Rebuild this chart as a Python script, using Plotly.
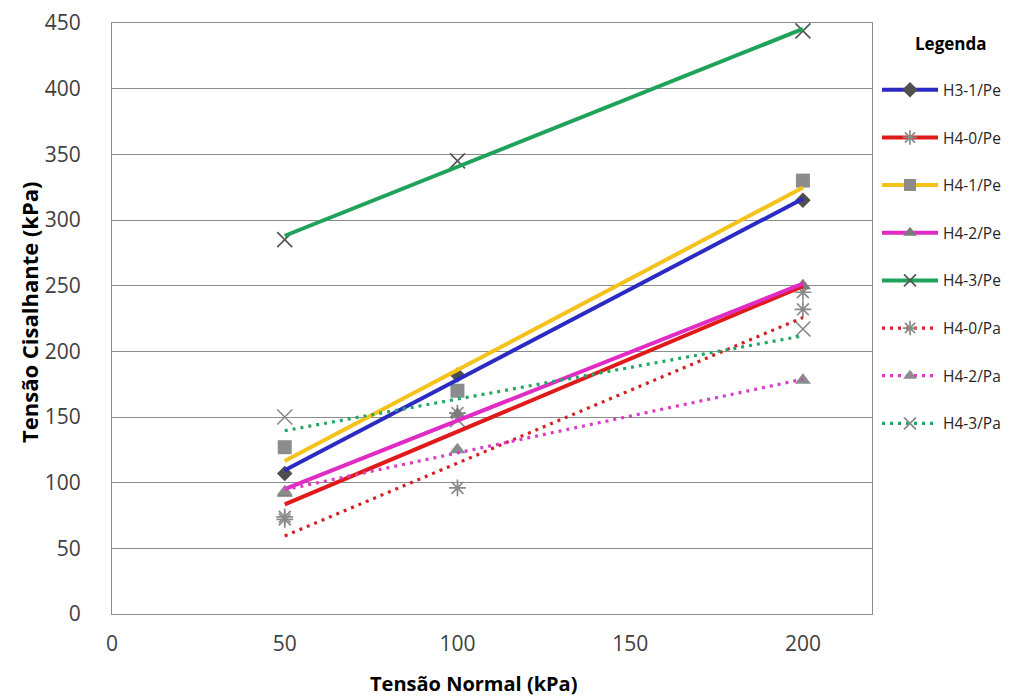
import numpy as np
import plotly.graph_objects as go

# ---- data ----
tensao_normal = [50, 100, 200]
series_names = ["H3-1/Pe", "H4-0/Pe", "H4-1/Pe", "H4-2/Pe", "H4-3/Pe",
                "H4-0/Pa", "H4-2/Pa", "H4-3/Pa"]
h3_1_pe = [107, 182, 315]
h4_0_pe = [74, 153, 245]
h4_1_pe = [127, 170, 330]
h4_2_pe = [92, 152, 250]
h4_3_pe = [285, 345, 444]
h4_0_pa = [72, 96, 232]
h4_2_pa = [93, 125, 178]
h4_3_pa = [150, 148, 217]
y_ticks = [0, 50, 100, 150, 200, 250, 300, 350, 400, 450]
x_ticks = [0, 50, 100, 150, 200]

series_values = [h3_1_pe, h4_0_pe, h4_1_pe, h4_2_pe, h4_3_pe,
                 h4_0_pa, h4_2_pa, h4_3_pa]

# ---- styles ----
line_colors = ["#2B2BC4", "#E01A1A", "#F5C21B", "#E02CC4", "#1FA35A",
               "#D42020", "#D83CC8", "#22A865"]
line_dash = ["solid"] * 5 + ["3px,5px"] * 3
marker_symbols = ["diamond", "asterisk-open", "square", "triangle-up", "x-thin-open",
                  "asterisk-open", "triangle-up", "x-thin-open"]
marker_colors = ["#4F4F4F", "#8A8A8A", "#8C8C8C", "#7A7A7A", "#555555",
                 "#8A8A8A", "#8C8C8C", "#8A8A8A"]
marker_sizes = [12, 14, 14, 14, 15, 14, 14, 15]

FONT = "Open Sans"
fig = go.Figure()

def marker_dict(i, size=None):
    s = marker_sizes[i] if size is None else size
    sym = marker_symbols[i]
    if sym in ("asterisk-open", "x-thin-open"):
        return dict(symbol=sym, size=s, color=marker_colors[i],
                    line=dict(color=marker_colors[i], width=1.7))
    return dict(symbol=sym, size=s, color=marker_colors[i], line=dict(width=0))

# data markers
for i, name in enumerate(series_names):
    fig.add_trace(go.Scatter(x=tensao_normal, y=series_values[i], mode="markers",
                             marker=marker_dict(i), showlegend=False,
                             hoverinfo="skip"))

# linear trendlines (least squares fit of each series)
xs = np.array(tensao_normal, dtype=float)
x_line = [min(tensao_normal), max(tensao_normal)]
for i, name in enumerate(series_names):
    slope, intercept = np.polyfit(xs, np.array(series_values[i], dtype=float), 1)
    y_line = [slope * xv + intercept for xv in x_line]
    fig.add_trace(go.Scatter(x=x_line, y=y_line, mode="lines",
                             line=dict(color=line_colors[i], width=4 if i < 5 else 3.2,
                                       dash=line_dash[i]),
                             showlegend=False, hoverinfo="skip"))

# legend entries
for i, name in enumerate(series_names):
    fig.add_trace(go.Scatter(x=[None], y=[None], mode="lines+markers", name=name,
                             legendgroup=name,
                             line=dict(color=line_colors[i], width=4 if i < 5 else 3.2,
                                       dash=line_dash[i]),
                             marker=marker_dict(i, size=12)))

# the page body adds an 8px offset, so the figure is 8px smaller and margins shifted
fig.update_layout(
    width=1009, height=690,
    margin=dict(l=104, r=145, t=15, b=84, autoexpand=False),
    paper_bgcolor="white", plot_bgcolor="white",
    font=dict(family=FONT, color="#262626"),
    showlegend=True,
    legend=dict(x=(877 - 112) / 760, xanchor="left", y=0.915, yanchor="top",
                font=dict(size=15.5, family=FONT, color="#262626"),
                tracegroupgap=24.5, itemwidth=56, bgcolor="rgba(0,0,0,0)"),
    xaxis=dict(range=[0, 220], tickvals=x_ticks, showgrid=False, zeroline=False,
               showline=True, linecolor="#8C8C8C", linewidth=1, mirror=True,
               ticks="", ticklabelstandoff=11, automargin=False,
               ticklabeloverflow="allow",
               tickfont=dict(size=21, family=FONT, color="#404040")),
    yaxis=dict(range=[0, 450], tickvals=y_ticks, showgrid=True, gridcolor="#8C8C8C",
               gridwidth=1, zeroline=False, showline=True, linecolor="#8C8C8C",
               linewidth=1, mirror=True, ticks="", ticklabelstandoff=26, automargin=False,
               ticklabeloverflow="allow",
               tickfont=dict(size=21, family=FONT, color="#404040")),
    annotations=[
        dict(text="<b>Tensão Normal (kPa)</b>", xref="paper", yref="paper",
             x=(473 - 112) / 760, y=-(683 - 614) / 591, xanchor="center", yanchor="middle",
             showarrow=False, font=dict(size=20, family=FONT, color="#000000")),
        dict(text="<b>Tensão Cisalhante (kPa)</b>", xref="paper", yref="paper",
             x=-(112 - 29) / 760, y=1 - (312 - 23) / 591, xanchor="center", yanchor="middle",
             textangle=-90, showarrow=False,
             font=dict(size=22, family=FONT, color="#000000")),
        dict(text="<b>Legenda</b>", xref="paper", yref="paper",
             x=(951 - 112) / 760, y=1 - (43 - 23) / 591, xanchor="center", yanchor="middle",
             showarrow=False, font=dict(size=17, family=FONT, color="#000000")),
    ],
)

fig.write_html("out.html")
